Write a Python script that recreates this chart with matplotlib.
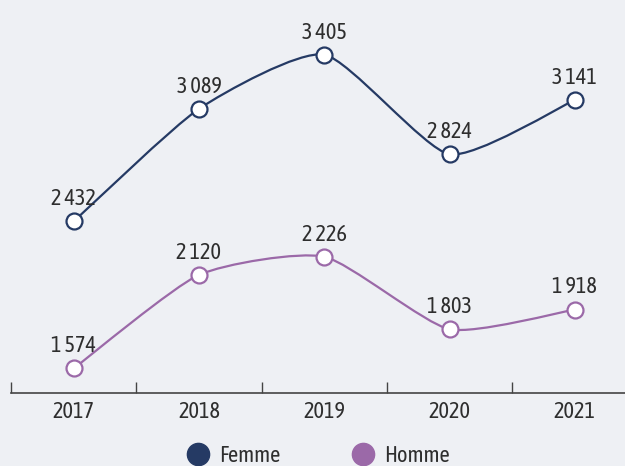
import numpy as np
import matplotlib
matplotlib.use('Agg')
import matplotlib.pyplot as plt
from matplotlib.path import Path
from matplotlib.patches import PathPatch
from matplotlib.lines import Line2D

plt.rcParams['font.family'] = ['Asap Condensed', 'DejaVu Sans']

years = ['2017', '2018', '2019', '2020', '2021']
femme = [2432, 3089, 3405, 2824, 3141]
homme = [1574, 2120, 2226, 1803, 1918]

bg = '#eef0f4'
c_femme = '#253a64'
c_homme = '#9b69a8'
c_text = '#2e2e2e'


def fmt(v):
    # thousands separated by a space
    return f'{v:,}'.replace(',', ' ')


def smooth_path(x, y, k=10.0):
    # gentle Catmull-Rom style curve written as cubic Bezier segments
    pts = np.column_stack([x, y]).astype(float)
    verts = [pts[0]]
    codes = [Path.MOVETO]
    n = len(pts)
    for i in range(n - 1):
        p0 = pts[max(i - 1, 0)]
        p1 = pts[i]
        p2 = pts[i + 1]
        p3 = pts[min(i + 2, n - 1)]
        c1 = p1 + (p2 - p0) / k
        c2 = p2 - (p3 - p1) / k
        verts += [c1, c2, p2]
        codes += [Path.CURVE4] * 3
    return Path(verts, codes)


fig = plt.figure(figsize=(6.25, 4.66), dpi=100, facecolor=bg)
ax = fig.add_axes([11 / 625, 73 / 466, 1 - 11 / 625, 1 - 73 / 466])
ax.set_facecolor(bg)

x = np.arange(len(years))
for vals, col in [(femme, c_femme), (homme, c_homme)]:
    ax.add_patch(PathPatch(smooth_path(x, vals), fill=False, edgecolor=col,
                           lw=1.6, zorder=2))
    ax.plot(x, vals, linestyle='none', marker='o', ms=11.5, mfc='white',
            mec=col, mew=1.6, zorder=3)
    for xi, v in zip(x, vals):
        ax.annotate(fmt(v), (xi, v), xytext=(0, 8), textcoords='offset points',
                    ha='center', va='bottom', fontsize=16, color=c_text)

ax.set_xlim(-0.5, 4.4)
ax.set_ylim(1431, 3724)

for s in ['top', 'right', 'left']:
    ax.spines[s].set_visible(False)
ax.spines['bottom'].set_color('#444444')
ax.spines['bottom'].set_linewidth(1.2)
ax.set_yticks([])

# tick marks sit on the category boundaries, labels at the centres
ax.set_xticks(np.arange(-0.5, 4.5, 1.0))
ax.set_xticklabels([])
ax.tick_params(axis='x', direction='in', length=8, width=1.0, color='#444444')
ax.set_xticks(x, minor=True)
ax.set_xticklabels(years, minor=True, fontsize=16, color=c_text)
ax.tick_params(axis='x', which='minor', length=0, pad=6)

handles = [Line2D([], [], linestyle='none', marker='o', ms=16, color=c_femme),
           Line2D([], [], linestyle='none', marker='o', ms=16, color=c_homme)]
fig.legend(handles, ['Femme', 'Homme'], loc='center', ncol=2,
           bbox_to_anchor=(0.509, 10 / 466), frameon=False, fontsize=16,
           handlelength=1.0, handletextpad=0.45, columnspacing=3.2,
           labelcolor=c_text)

fig.savefig('out.png', dpi=100, facecolor=bg)
